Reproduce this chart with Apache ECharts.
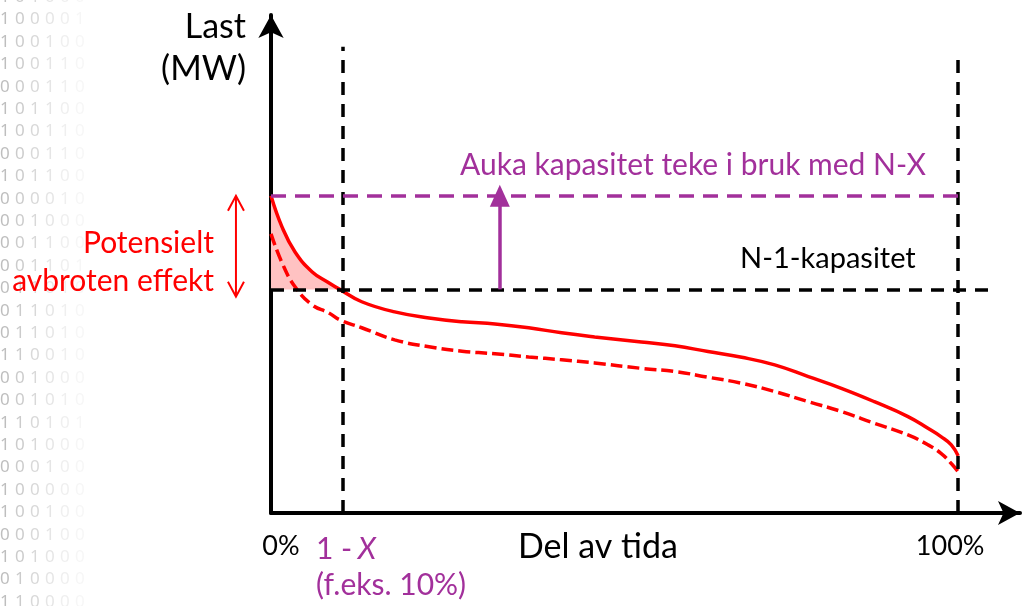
<!DOCTYPE html>
<html>
<head>
<meta charset="utf-8">
<script src="https://cdn.jsdelivr.net/npm/echarts@6/dist/echarts.min.js"></script>
<style>
  html, body { margin: 0; padding: 0; background: #fff; }
  #main { width: 1023px; height: 606px; }
</style>
</head>
<body>
<div id="main"></div>
<script>
// share of time (%) and load
const timeShare = [0, 1.6, 3.5, 6.0, 8.4, 10.0, 13.2, 18.0, 23.0, 27.8, 32.6, 37.5, 42.3, 47.1, 53.9, 58.8, 63.6, 68.5, 73.3, 78.2, 83.0, 87.8, 92.7, 95.6, 97.5, 99.0, 100];
const loadNX = [100, 90.2, 82.3, 76.0, 72.6, 70.5, 66.6, 63.4, 61.5, 60.3, 59.6, 58.4, 56.8, 55.5, 53.9, 52.7, 50.9, 49.1, 46.7, 43.0, 39.3, 35.1, 30.4, 26.7, 24.1, 21.5, 18.0];
const loadN1 = [88, 78.9, 71.3, 65.6, 63.1, 60.9, 58.4, 54.6, 52.4, 51.0, 50.2, 49.2, 48.3, 47.3, 45.6, 44.6, 42.8, 40.9, 38.3, 35.1, 32.0, 28.3, 24.6, 21.5, 18.8, 15.6, 13.0];

const n1Capacity = 70.5;
const nxCapacity = 100;
const splitShare = 10.5;     // 1 - X
const xTickValues = [0, 100];
const liftShare = 33.3;      // where the purple arrow stands
const lossShare = -5.1;      // where the red double arrow stands
const lossBottom = 68.2;

const binaryRows = [
  '101000', '100001', '100100', '100110', '000110', '101100', '100110', '000110',
  '101100', '000010', '001000', '001100', '001101', '011010', '011010', '011010',
  '110010', '001000', '001010', '110101', '101000', '000100', '100000', '100100',
  '000100', '101000', '010000', '110000'
];

const RED = '#ff0000';
const PURPLE = '#a2309b';
const FONT = 'Lato';
const SMOOTH = 0.45;
const BLACK_DASH = { color: '#000', width: 3.5, type: [13, 9] };

const chart = echarts.init(document.getElementById('main'), null, { renderer: 'canvas' });

const toPairs = (xs, ys) => xs.map((x, i) => [x, ys[i]]);

// part of the N-X curve above N-1 capacity (before 1 - X)
const lossPart = toPairs(timeShare, loadNX).filter(p => p[0] <= splitShare && p[1] >= n1Capacity);

// faint binary digits on the left edge
const binaryCols = [];
const colAlpha = [0.45, 0.36, 0.27, 0.18, 0.11, 0.06];
for (let c = 0; c < 6; c++) {
  binaryCols.push({
    type: 'text',
    x: 0 + c * 15,
    y: -14,
    silent: true,
    style: {
      text: binaryRows.map(r => r[c]).join('\n'),
      fill: 'rgba(110,110,110,' + colAlpha[c] + ')',
      font: '17px "Noto Sans"',
      lineHeight: 22.4
    }
  });
}

const option = {
  backgroundColor: '#fff',
  animation: false,
  grid: { left: 271, right: 3, top: 15, bottom: 93 },
  xAxis: {
    type: 'value',
    min: 0,
    max: 109,
    splitLine: { show: false },
    axisTick: { show: false },
    axisLine: {
      show: true,
      symbol: ['none', 'arrow'],
      symbolSize: [18, 22],
      lineStyle: { color: '#000', width: 4 }
    },
    axisLabel: {
      customValues: xTickValues,
      formatter: v => (v === 0 ? '{a|0%}' : '{b|100%}'),
      margin: 20,
      rich: {
        a: { color: '#000', fontFamily: FONT, fontSize: 27, padding: [0, 0, 0, 20] },
        b: { color: '#000', fontFamily: FONT, fontSize: 27, padding: [0, 16, 0, 0] }
      }
    }
  },
  yAxis: {
    type: 'value',
    min: 0,
    max: 157,
    splitLine: { show: false },
    axisTick: { show: false },
    axisLabel: { show: false },
    axisLine: {
      show: true,
      symbol: ['none', 'arrow'],
      symbolSize: [19, 23],
      lineStyle: { color: '#000', width: 4 }
    }
  },
  graphic: binaryCols.concat([
    {
      type: 'text', x: 246, y: 6,
      style: { text: 'Last\n(MW)', fill: '#000', font: '34px ' + FONT, lineHeight: 42, align: 'right' }
    },
    {
      type: 'text', x: 214, y: 224,
      style: { text: 'Potensielt\navbroten effekt', fill: RED, font: '30px ' + FONT, lineHeight: 38, align: 'right' }
    },
    {
      type: 'text', x: 518, y: 530,
      style: { text: 'Del av tida', fill: '#000', font: '34px ' + FONT }
    },
    {
      type: 'text', x: 316, y: 531,
      style: {
        text: '{a|1 -}{s| }{b|X}\n{a|(f.eks. 10%)}',
        rich: {
          a: { fill: PURPLE, font: '30px ' + FONT, lineHeight: 36 },
          s: { fill: PURPLE, font: '22px ' + FONT, lineHeight: 36 },
          b: { fill: PURPLE, font: 'italic 30px ' + FONT, lineHeight: 36 }
        }
      }
    },
    {
      type: 'text', x: 460, y: 150,
      style: { text: 'Auka kapasitet teke i bruk med N-X', fill: PURPLE, font: '30px ' + FONT }
    },
    {
      type: 'text', x: 740, y: 244,
      style: { text: 'N-1-kapasitet', fill: '#000', font: '29px ' + FONT }
    }
  ]),
  series: [
    {
      // red range arrow: potentially interrupted power
      type: 'custom',
      z: 1,
      silent: true,
      clip: false,
      data: [0],
      renderItem: (params, api) => {
        const top = api.coord([lossShare, nxCapacity]);
        const bot = api.coord([lossShare, lossBottom]);
        const arrowStyle = { stroke: RED, lineWidth: 2, fill: null };
        return {
          type: 'group',
          children: [
            { type: 'line', shape: { x1: top[0], y1: top[1], x2: bot[0], y2: bot[1] }, style: arrowStyle },
            { type: 'polyline', shape: { points: [[top[0] - 8, top[1] + 15], top, [top[0] + 8, top[1] + 15]] }, style: arrowStyle },
            { type: 'polyline', shape: { points: [[bot[0] - 8, bot[1] - 15], bot, [bot[0] + 8, bot[1] - 15]] }, style: arrowStyle }
          ]
        };
      }
    },
    {
      // shaded area between N-X curve and N-1 capacity
      type: 'line',
      z: 1,
      silent: true,
      data: lossPart,
      smooth: SMOOTH,
      showSymbol: false,
      lineStyle: { width: 0, opacity: 0 },
      areaStyle: { color: '#ffc2c2', opacity: 1, origin: n1Capacity }
    },
    {
      name: 'N-1',
      type: 'line',
      z: 3,
      data: toPairs(timeShare, loadN1),
      smooth: SMOOTH,
      showSymbol: false,
      lineStyle: { color: RED, width: 3.5, type: [12, 5] },
      markLine: {
        silent: true,
        symbol: 'none',
        label: { show: false },
        data: [
          [{ coord: [splitShare, 0], lineStyle: BLACK_DASH }, { coord: [splitShare, 147] }],
          [{ coord: [100, 0], lineStyle: BLACK_DASH }, { coord: [100, 145] }],
          [{ coord: [0, n1Capacity], lineStyle: BLACK_DASH }, { coord: [104.8, n1Capacity] }],
          [{ coord: [0, nxCapacity], lineStyle: { color: PURPLE, width: 3.5, type: [15, 9] } }, { coord: [100.5, nxCapacity] }]
        ]
      }
    },
    {
      name: 'N-X',
      type: 'line',
      z: 4,
      data: toPairs(timeShare, loadNX),
      smooth: SMOOTH,
      showSymbol: false,
      lineStyle: { color: RED, width: 3.5 },
      markLine: {
        silent: true,
        label: { show: false },
        data: [
          [
            { coord: [liftShare, n1Capacity], symbol: 'none', lineStyle: { color: PURPLE, width: 3.5, type: 'solid' } },
            { coord: [liftShare, nxCapacity], symbol: 'triangle', symbolSize: [20, 22] }
          ]
        ]
      }
    }
  ]
};

chart.setOption(option);
</script>
</body>
</html>
